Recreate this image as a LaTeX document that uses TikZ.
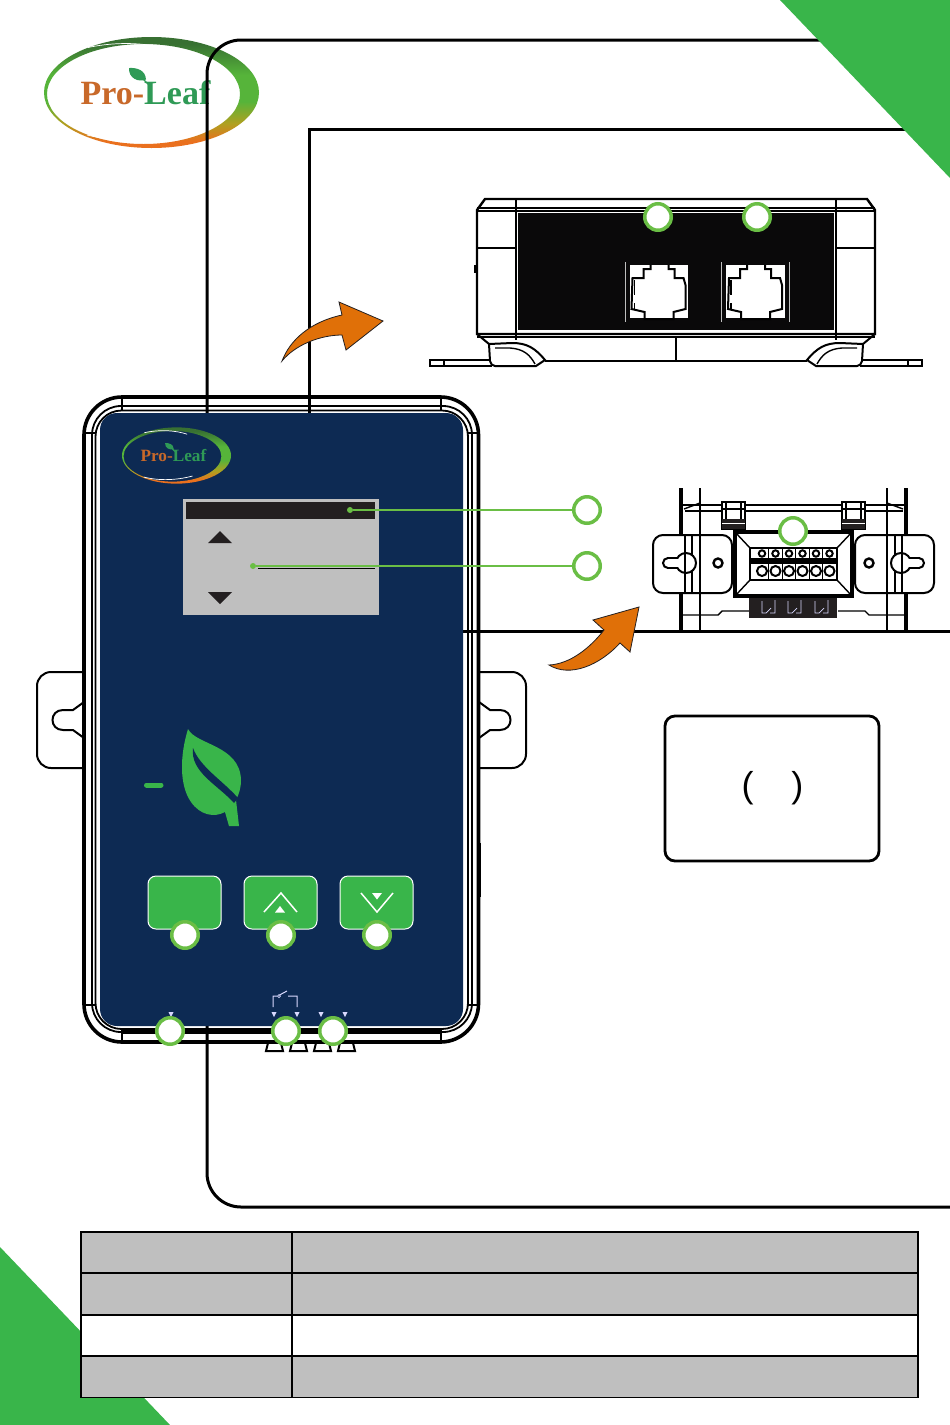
\documentclass[tikz,border=0pt]{standalone}
\usepackage{fontspec}
\setmainfont{Liberation Sans}
\newfontfamily\logofont{Liberation Serif}
\definecolor{panelblue}{RGB}{13,42,83}
\definecolor{cornergreen}{RGB}{57,181,74}
\definecolor{ringgreen}{RGB}{106,190,69}
\definecolor{screengray}{RGB}{191,191,191}
\definecolor{inkdark}{RGB}{35,31,32}
\definecolor{arroworange}{RGB}{224,112,8}
\definecolor{logoorange}{RGB}{200,105,42}
\definecolor{logoleaf}{RGB}{47,154,86}
\definecolor{logotop}{RGB}{56,112,50}
\definecolor{logomid}{RGB}{86,180,58}
\definecolor{logoolive}{RGB}{176,160,32}
\definecolor{logolow}{RGB}{234,112,30}
\pgfdeclareverticalshading{logoshade}{100bp}{
  color(0bp)=(logolow); color(28bp)=(logolow); color(36bp)=(logoolive);
  color(46bp)=(logomid); color(58bp)=(logomid); color(72bp)=(logotop); color(100bp)=(logotop)}
\tikzset{
  marker/.style={circle,draw=ringgreen,fill=white,line width=3.5pt,
                 minimum size=26.5pt,inner sep=0pt},
  dot/.style={circle,fill=ringgreen,minimum size=6pt,inner sep=0pt},
  leader/.style={draw=ringgreen,line width=1.8pt},
  frameline/.style={line width=3pt,black},
  outline/.style={line width=2pt,black},
  heavyline/.style={line width=3.6pt,black},
  thinline/.style={line width=1.4pt,black},
  keybutton/.style={fill=cornergreen,draw=white,line width=1pt,rounded corners=8pt},
  glyph/.style={draw=white,line width=1.5pt},
  relayline/.style={draw=white!85!blue,line width=1pt},
  callarrow/.style={fill=arroworange,draw=inkdark,line width=.8pt},
  tablecell/.style={fill=screengray,draw=black,line width=1.3pt},
}
\newcommand{\prologo}[1]{%
  \shade[even odd rule,shading=logoshade]
    (0,0) ellipse [x radius=107.5,y radius=55.5]
    (-8,1.5) ellipse [x radius=96.5,y radius=50];
  \draw[white,line width=.7pt] (-63.5,-45) .. controls (-30,-52) and (0,-49) .. (21,-42);
  \draw[white,line width=.7pt] (-64.5,42.5) .. controls (-35,50) and (0,49) .. (31.5,40.5);
  \fill[logoleaf] (-22.5,-24.5) .. controls (-14,-25) and (-6,-22) .. (-5.5,-13)
    .. controls (-13,-10) and (-23,-14) .. cycle;
  \draw[logoleaf,line width=1.2pt] (-10,-15) -- (-3,-8);
  \node[anchor=base,inner sep=0pt,transform shape,font=\logofont\bfseries\fontsize{34}{34}\selectfont]
    (#1) at (-6,11.5) {\textcolor{logoorange}{Pro-}\textcolor{logoleaf}{Leaf}};
}
\begin{document}
\begin{tikzpicture}[x=1pt,y=-1pt]
  \useasboundingbox (0,0) rectangle (950,1425);
  \fill[white] (0,0) rectangle (950,1425);

  \begin{scope}[shift={(151.5,92.5)}]
    \prologo{bigname}
  \end{scope}

  \draw[frameline,rounded corners=34pt] (950,1207) -- (207,1207) -- (207,40) -- (830,40);
  \draw[frameline] (950,129) -- (309,129) -- (309,414);
  \draw[frameline] (950,631) -- (463,631);

  \fill[cornergreen] (780,0) -- (950,0) -- (950,178) -- cycle;
  \fill[cornergreen] (0,1247) -- (170,1425) -- (0,1425) -- cycle;

  \foreach \y/\fillc in {1232/screengray,1273/screengray,1315/white,1356/screengray}
    \draw[tablecell,fill=\fillc] (81,\y) rectangle (918,{\y+41.5});
  \draw[tablecell] (292,1232) -- (292,1397);

  % rear view
  \draw[outline,line width=2.4pt] (477,210) -- (485,199) -- (867,199) -- (875,210) -- (875,334) -- (477,334) -- cycle;
  \draw[thinline] (477,208) -- (875,208) (477,211) -- (875,211);
  \draw[thinline] (477,248) -- (516,248) (836,248) -- (875,248);
  \draw[thinline] (477,337) -- (875,337);
  \draw[outline] (516,199) -- (516,340) (836,199) -- (836,340);
  \fill[inkdark!30!black] (518,213) rectangle (834,330);
  \draw[outline] (676,337) -- (676,361);
  \draw[outline,line width=2.4pt] (545,361) -- (807,361);
  \fill[black] (474,265) rectangle (476,273);
  \foreach \mirr/\off in {1/0,-1/1352}{
    \begin{scope}[xshift=\off pt,xscale=\mirr]
      \draw[outline] (477,334) -- (489,344) -- (490,361) .. controls (491,364) and (492,366) .. (495,366)
        -- (536,366) -- (545,360) .. controls (535,348) and (527,343) .. (512,343) -- (489,344);
      \draw[thinline] (495,348) -- (510,348) .. controls (524,349) and (530,355) .. (535,364);
      \draw[outline] (490,360) -- (430,360) -- (430,366) -- (492,366);
      \draw[thinline] (444,360) -- (444,366);
    \end{scope}
  }
  \foreach \jx in {629.5,726}{
    \begin{scope}[shift={(\jx,265)}]
      \fill[white] (0,0) rectangle (58.5,53);
      \draw[outline] (21,0) -- (21,4) -- (14,4) -- (14,13) -- (3,13) -- (2,44) -- (15,47) -- (15,54)
        -- (44,54) -- (44,47) -- (56,44) -- (56,20) -- (54,13) -- (45,13) -- (45,4) -- (39,4) -- (39,0);
      \draw[thinline] (5,15) -- (5,30) (5,38) -- (5,45);
    \end{scope}
  }
  \draw[white!75!black,line width=.6pt] (625,262) -- (625,322) (721,262) -- (721,322) (789,262) -- (789,322);
  \node[marker] (jackleft) at (658,217) {};
  \node[marker] (jackright) at (757,217) {};

  % terminal view
  \foreach \xv/\wd in {681/3.4,700/2.4,887/2.4,906/3.4}
    \draw[line width=\wd pt,black] (\xv,488) -- (\xv,631);
  \draw[outline,line width=2.8pt] (683,505) -- (904,505);
  \draw[thinline] (685,511) -- (903,511);
  \draw[thinline] (684,509) -- (700,503) (903,509) -- (887,503);
  \draw[thinline] (683,615) -- (718,615) -- (722,611) -- (749,611)
     (904,615) -- (869,615) -- (865,611) -- (838,611);
  \foreach \xv in {722,842}{
    \fill[white] (\xv,502) rectangle ({\xv+23},529);
    \draw[outline] (\xv,502) rectangle ({\xv+23},529);
    \draw[thinline] (\xv,509) -- ({\xv+23},509);
    \fill[inkdark] (\xv,519) rectangle ({\xv+23},529);
    \draw[white,line width=.6pt] (\xv,523) -- ({\xv+23},523);
    \draw[thinline] ({\xv+4},502) -- ({\xv+4},519) ({\xv+19},502) -- ({\xv+19},519);
  }
  \foreach \mirr/\off in {1/0,-1/1587}{
    \begin{scope}[xshift=\off pt,xscale=\mirr]
      \draw[outline,fill=white,rounded corners=10pt] (653,535) rectangle (732,593);
      \draw[thinline] (685,535) -- (685,593) (692,535) -- (692,593) (700,535) -- (700,593);
      \draw[outline,fill=white] (668,563) circle [radius=5];
      \draw[outline,fill=white] (686,563) circle [radius=10];
      \fill[white] (668,559) rectangle (680,567);
      \draw[outline] (668,558) -- (677,558) (668,568) -- (677,568);
      \draw[outline] (685,553) -- (685,573);
      \draw[black,line width=2.4pt,fill=white] (718,563) circle [radius=4.5];
    \end{scope}
  }
  \fill[inkdark] (749,596) rectangle (837,618);
  \foreach \xv in {762,788,815}
    \draw[relayline,line width=.7pt] (\xv,601) -- (\xv,613) -- (\xv+4,613) -- (\xv+9,608)
       (\xv+8,613) -- (\xv+13,613) -- (\xv+13,600);
  \draw[heavyline,fill=white] (735,532) rectangle (852,596);
  \draw[outline] (750,548) rectangle (837,580);
  \draw[thinline] (735,532) -- (750,548) (852,532) -- (837,548) (735,596) -- (750,580) (852,596) -- (837,580);
  \fill[black] (750,558) rectangle (837,564);
  \foreach \xv in {762,775.5,789,802.5,816,829.5}{
    \draw[outline] (\xv,553.5) circle [radius=3.2];
    \draw[outline] (\xv,571) circle [radius=5];
    \draw[thinline] ({\xv+6.7},548) -- ({\xv+6.7},580);
  }
  \node[marker] (terminal) at (793,531) {};

  \draw[callarrow] (282,361) .. controls (290,340) and (310,322) .. (342,315) -- (339,302) -- (383,321)
    -- (346,350) -- (342,335) .. controls (320,335) and (295,345) .. (282,361) -- cycle;
  \draw[callarrow] (549,665) .. controls (570,664) and (590,648) .. (604,630) -- (593,620) -- (639,607)
    -- (630,652) -- (620,643) .. controls (600,665) and (570,678) .. (549,665) -- cycle;

  \draw[outline,line width=2.8pt,rounded corners=10pt] (665,716) rectangle (879,861);
  \node[font=\fontsize{36}{36}\selectfont,inner sep=0pt] (unitnote) at (772.5,788) {(\hspace{38pt})};

  % main unit
  \foreach \mirr/\off in {1/0,-1/563}{
    \begin{scope}[xshift=\off pt,xscale=\mirr]
      \draw[outline,fill=white,rounded corners=14pt] (84,672) -- (37,672) -- (37,768) -- (84,768);
      \draw[outline] (84,702) -- (73,710) -- (63,710) .. controls (49,710) and (49,730) .. (63,730)
        -- (73,730) -- (84,738);
    \end{scope}
  }
  \fill[black] (478,843) rectangle (481,897);
  \draw[heavyline,rounded corners=38pt] (84,397) rectangle (478.5,1042);
  \draw[thinline,line width=1.8pt,rounded corners=29pt] (92,406) rectangle (472,1032);
  \draw[thinline,line width=1.8pt,rounded corners=26pt] (95.5,410.5) rectangle (468,1029);
  \draw[heavyline] (122,1032) -- (441,1032);
  \draw[thinline] (122,397) -- (122,411) (441,397) -- (441,411) (84,433) -- (96,433) (467,433) -- (478,433)
     (122,1029) -- (122,1042) (441,1029) -- (441,1042) (84,1005) -- (96,1005) (467,1005) -- (478,1005);
  \foreach \xv in {266,290,314,338}
    \draw[outline] ({\xv+2},1043) -- (\xv,1051) -- ({\xv+17},1051) -- ({\xv+15},1043);
  \fill[panelblue,rounded corners=17pt] (100,413) rectangle (463,1026);

  \begin{scope}[shift={(176.5,455.5)},scale=.507]
    \prologo{smallname}
  \end{scope}

  \fill[screengray] (183,499) rectangle (379,615);
  \fill[inkdark] (186,502) rectangle (375,519);
  \fill[inkdark] (208,543) -- (220,531) -- (232,543) -- cycle;
  \fill[inkdark] (208,592) -- (232,592) -- (220,604) -- cycle;
  \draw[black,line width=.8pt] (258,568) -- (375,568);
  \node[dot] (titledot) at (350,510) {};
  \node[dot] (bodydot) at (253,566) {};
  \node[marker] (titlemark) at (587,510) {};
  \node[marker] (bodymark) at (587,566) {};
  \draw[leader] (titledot) -- (titlemark);
  \draw[leader] (bodydot) -- (bodymark);

  \fill[cornergreen] (188,729) .. controls (196,745) and (240,745) .. (241,780)
    .. controls (241,788) and (239,794) .. (236,800) -- (239,826) -- (229,826) -- (225,812)
    .. controls (214,818) and (200,815) .. (191,802) .. controls (179,785) and (180,755) .. cycle;
  \fill[panelblue] (193,748) .. controls (200,767) and (222,780) .. (238,798) -- (234,803)
    .. controls (218,785) and (190,772) .. (193,748) -- cycle;
  \draw[cornergreen,line width=5pt,line cap=round] (146.5,785) -- (161,785);

  \foreach \xv in {148,244,340}
    \draw[keybutton] (\xv,876) rectangle ({\xv+73},929);
  \draw[glyph] (264,912) -- (281,893) -- (297,912);
  \fill[white] (275,912.5) -- (280,906) -- (285,912.5) -- cycle;
  \draw[glyph] (361,893) -- (377,912) -- (393,893);
  \fill[white] (372,893) -- (382,893) -- (377,899.5) -- cycle;

  \draw[relayline] (273,1007) -- (273,996) -- (277,996) (279.5,995) -- (287,991) (288,996) -- (297,996) -- (297,1007);
  \draw[relayline,line width=.7pt] (279,996) circle [radius=1.5];
  \foreach \xv in {171,274,297,321,345}
    \fill[white!85!blue] ({\xv-2.5},1012) -- ({\xv+2.5},1012) -- (\xv,1017) -- cycle;

  \node[marker] (keyone) at (185,935) {};
  \node[marker] (keytwo) at (281,935) {};
  \node[marker] (keythree) at (377,935) {};
  \node[marker] (portone) at (170,1031) {};
  \node[marker] (porttwo) at (286,1031) {};
  \node[marker] (portthree) at (333,1031) {};
\end{tikzpicture}
\end{document}
